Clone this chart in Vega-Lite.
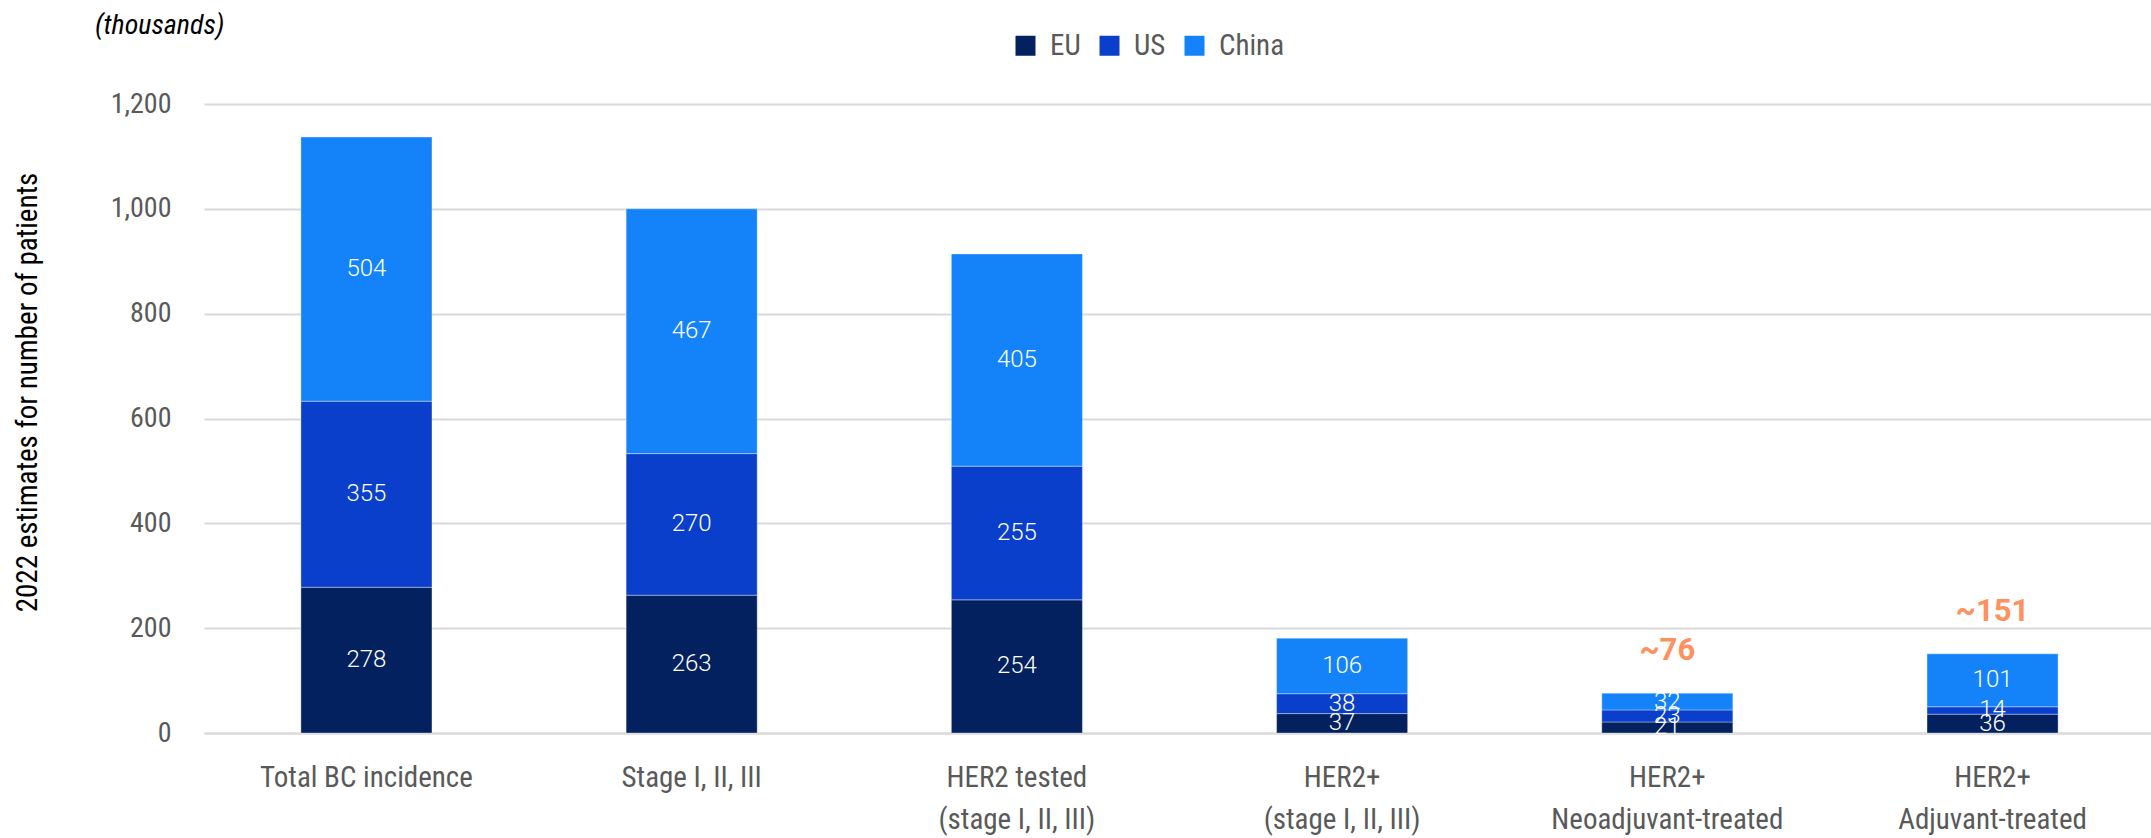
{
  "$schema": "https://vega.github.io/schema/vega-lite/v6.json",
  "width": 1951,
  "height": 629,
  "autosize": {"type": "none"},
  "padding": {"left": 204, "top": 104, "right": 0, "bottom": 105},
  "background": "white",
  "title": {
    "text": "(thousands)",
    "anchor": "start",
    "frame": "group",
    "dx": -109,
    "offset": -9,
    "font": "Roboto Condensed, Roboto",
    "fontStyle": "italic",
    "fontWeight": "normal",
    "fontSize": 28,
    "color": "black"
  },
  "datasets": {
    "bars": [
      {"cat": "Total BC incidence", "region": "EU", "value": 278, "rank": 1},
      {"cat": "Total BC incidence", "region": "US", "value": 355, "rank": 2},
      {"cat": "Total BC incidence", "region": "China", "value": 504, "rank": 3},
      {"cat": "Stage I, II, III", "region": "EU", "value": 263, "rank": 1},
      {"cat": "Stage I, II, III", "region": "US", "value": 270, "rank": 2},
      {"cat": "Stage I, II, III", "region": "China", "value": 467, "rank": 3},
      {"cat": "HER2 tested|(stage I, II, III)", "region": "EU", "value": 254, "rank": 1},
      {"cat": "HER2 tested|(stage I, II, III)", "region": "US", "value": 255, "rank": 2},
      {"cat": "HER2 tested|(stage I, II, III)", "region": "China", "value": 405, "rank": 3},
      {"cat": "HER2+|(stage I, II, III)", "region": "EU", "value": 37, "rank": 1},
      {"cat": "HER2+|(stage I, II, III)", "region": "US", "value": 38, "rank": 2},
      {"cat": "HER2+|(stage I, II, III)", "region": "China", "value": 106, "rank": 3},
      {"cat": "HER2+|Neoadjuvant-treated", "region": "EU", "value": 21, "rank": 1},
      {"cat": "HER2+|Neoadjuvant-treated", "region": "US", "value": 23, "rank": 2},
      {"cat": "HER2+|Neoadjuvant-treated", "region": "China", "value": 32, "rank": 3},
      {"cat": "HER2+|Adjuvant-treated", "region": "EU", "value": 36, "rank": 1},
      {"cat": "HER2+|Adjuvant-treated", "region": "US", "value": 14, "rank": 2},
      {"cat": "HER2+|Adjuvant-treated", "region": "China", "value": 101, "rank": 3}
    ],
    "totals": [
      {"cat": "HER2+|Neoadjuvant-treated", "total": 76, "label": "~76"},
      {"cat": "HER2+|Adjuvant-treated", "total": 151, "label": "~151"}
    ]
  },
  "encoding": {
    "x": {
      "field": "cat",
      "type": "nominal",
      "scale": {
        "domain": ["Total BC incidence", "Stage I, II, III", "HER2 tested|(stage I, II, III)", "HER2+|(stage I, II, III)", "HER2+|Neoadjuvant-treated", "HER2+|Adjuvant-treated"],
        "paddingInner": 0.597,
        "paddingOuter": 0.298
      },
      "axis": {
        "title": null,
        "labelExpr": "split(datum.label, '|')",
        "labelAngle": 0,
        "labelFont": "Roboto Condensed, Roboto",
        "labelFontSize": 29,
        "labelColor": "#595959",
        "labelLineHeight": 42,
        "labelPadding": 30,
        "labelLimit": 0,
        "ticks": false,
        "domainColor": "#D9D9D9",
        "domainWidth": 2
      }
    }
  },
  "layer": [
    {
      "data": {"name": "bars"},
      "mark": {"type": "bar", "stroke": "#ffffff", "strokeOpacity": 0.35, "strokeWidth": 1},
      "encoding": {
        "y": {
          "field": "value",
          "type": "quantitative",
          "stack": "zero",
          "scale": {"domain": [0, 1200], "nice": false},
          "axis": {
            "title": "2022 estimates for number of patients",
            "values": [0, 200, 400, 600, 800, 1000, 1200],
            "format": ",d",
            "labelFont": "Roboto Condensed, Roboto",
            "labelFontSize": 28,
            "labelColor": "#595959",
            "labelPadding": 33,
            "ticks": false,
            "domain": false,
            "gridColor": "#D9D9D9",
            "gridWidth": 2,
            "titleFont": "Roboto Condensed, Roboto",
            "titleFontSize": 29,
            "titleFontWeight": "normal",
            "titleColor": "black",
            "titleX": -177,
            "titleY": 288,
            "titleBaseline": "middle"
          }
        },
        "color": {
          "field": "region",
          "type": "nominal",
          "scale": {"domain": ["EU", "US", "China"], "range": ["#03215F", "#0A3FCC", "#1483FA"]},
          "legend": {
            "orient": "none",
            "legendX": 807,
            "legendY": -73,
            "direction": "horizontal",
            "title": null,
            "symbolType": "square",
            "symbolSize": 400,
            "symbolStrokeWidth": 0,
            "labelFont": "Roboto Condensed, Roboto",
            "labelFontSize": 29,
            "labelColor": "#595959",
            "labelOffset": 10,
            "columnPadding": 14
          }
        },
        "order": {"field": "rank", "type": "quantitative"}
      }
    },
    {
      "data": {"name": "bars"},
      "transform": [
        {"stack": "value", "groupby": ["cat"], "sort": [{"field": "rank", "order": "ascending"}], "as": ["v0", "v1"]},
        {"calculate": "(datum.v0 + datum.v1) / 2", "as": "mid"}
      ],
      "mark": {"type": "text", "font": "Roboto", "fontWeight": 300, "fontSize": 24, "color": "white", "align": "center", "baseline": "middle"},
      "encoding": {
        "y": {"field": "mid", "type": "quantitative"},
        "text": {"field": "value", "type": "quantitative"}
      }
    },
    {
      "data": {"name": "totals"},
      "mark": {"type": "text", "font": "Roboto", "fontWeight": "bold", "fontSize": 31, "color": "#FF9060", "align": "center", "baseline": "middle", "dy": -42},
      "encoding": {
        "y": {"field": "total", "type": "quantitative"},
        "text": {"field": "label", "type": "nominal"}
      }
    }
  ],
  "config": {"view": {"stroke": null}}
}
